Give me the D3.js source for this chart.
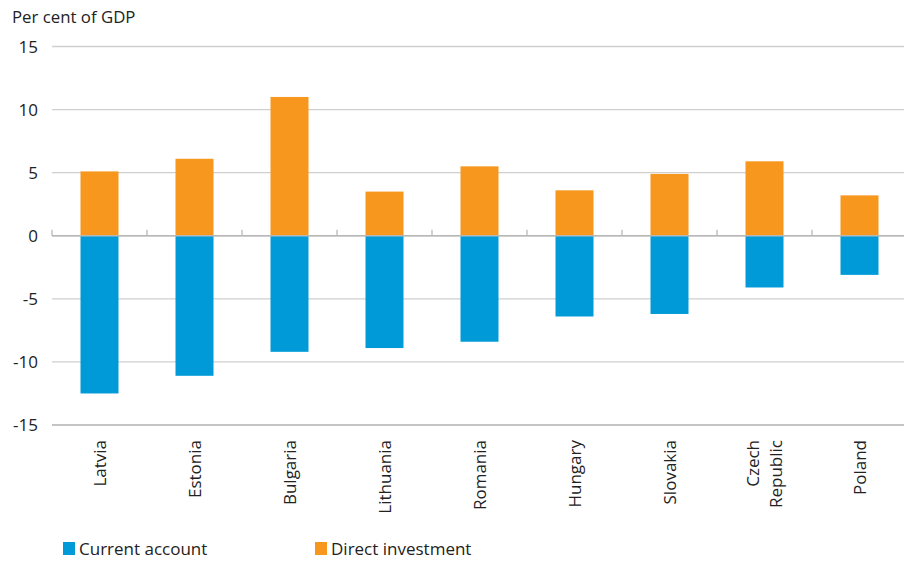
<!DOCTYPE html>
<html><head><meta charset="utf-8">
<script src="https://cdn.jsdelivr.net/npm/d3@7"></script>
<style>
body{margin:0;background:#fff;}
svg{display:block;font-family:"Open Sans","Noto Sans",sans-serif;}
</style></head><body>
<div id="chart"></div>
<script>
const categories = ["Latvia","Estonia","Bulgaria","Lithuania","Romania","Hungary","Slovakia","Czech Republic","Poland"];
const currentAccount = [-12.5,-11.1,-9.2,-8.9,-8.4,-6.4,-6.2,-4.1,-3.1];
const directInvestment = [5.1,6.1,11.0,3.5,5.5,3.6,4.9,5.9,3.2];
const yTicks = [-15,-10,-5,0,5,10,15];
const seriesNames = ["Current account","Direct investment"];
const colors = ["#009ad8","#f7971e"];

const W=904,H=561;
const svg=d3.select("#chart").append("svg").attr("width",W).attr("height",H);
const x=d3.scaleBand().domain(categories).range([52,907]).padding(0);
const y=d3.scaleLinear().domain([-15,15]).range([425,46.5]);

// gridlines
svg.append("g").selectAll("line").data(yTicks).join("line")
  .attr("x1",52).attr("x2",904).attr("y1",d=>y(d)).attr("y2",d=>y(d))
  .attr("stroke",d=>d===-15?"#b0b0b0":"#cfcfcf").attr("stroke-width",1.3);

// y labels
svg.append("g").selectAll("text").data(yTicks).join("text")
  .attr("x",38).attr("y",d=>y(d)).attr("dy","0.36em").attr("text-anchor","end")
  .attr("font-size",17).attr("fill","#222").text(d=>d);

svg.append("text").attr("x",12).attr("y",23).attr("font-size",16.8).attr("fill","#222").text("Per cent of GDP");

const bw=x.bandwidth()*0.4;
const cx=d=>x(d)+x.bandwidth()/2;
svg.append("g").selectAll("rect").data(categories).join("rect")
  .attr("x",d=>cx(d)-bw/2).attr("width",bw)
  .attr("y",(d,i)=>y(directInvestment[i])).attr("height",(d,i)=>y(0)-y(directInvestment[i]))
  .attr("fill",colors[1]);
svg.append("g").selectAll("rect").data(categories).join("rect")
  .attr("x",d=>cx(d)-bw/2).attr("width",bw)
  .attr("y",y(0)).attr("height",(d,i)=>y(currentAccount[i])-y(0))
  .attr("fill",colors[0]);

// zero axis line and ticks
svg.append("line").attr("x1",52).attr("x2",904).attr("y1",y(0)).attr("y2",y(0)).attr("stroke","#b8b8b8").attr("stroke-width",1.3);
svg.append("g").selectAll("line").data(categories).join("line")
  .attr("x1",d=>x(d)).attr("x2",d=>x(d)).attr("y1",y(0)).attr("y2",y(0)-6)
  .attr("stroke","#b8b8b8").attr("stroke-width",1.3);

// x labels
const xl=svg.append("g").selectAll("text").data(categories).join("text")
  .attr("transform",d=>`translate(${cx(d)},440) rotate(-90)`)
  .attr("text-anchor","end").attr("font-size",17).attr("fill","#222");
xl.each(function(d){
  const parts=d.split(" ");
  const t=d3.select(this);
  const n=parts.length;
  parts.forEach((p,i)=>{
    t.append("tspan").attr("x",0).attr("y",0).attr("dy",(0.36+(i-(n-1)/2)*1.35)+"em").text(p);
  });
});

// legend
const leg=svg.append("g");
const lx=[63,315];
seriesNames.forEach((s,i)=>{
  leg.append("rect").attr("x",lx[i]).attr("y",542).attr("width",12).attr("height",13).attr("fill",colors[i]);
  leg.append("text").attr("x",lx[i]+16).attr("y",555).attr("font-size",17).attr("fill","#222").text(s);
});
</script></body></html>
